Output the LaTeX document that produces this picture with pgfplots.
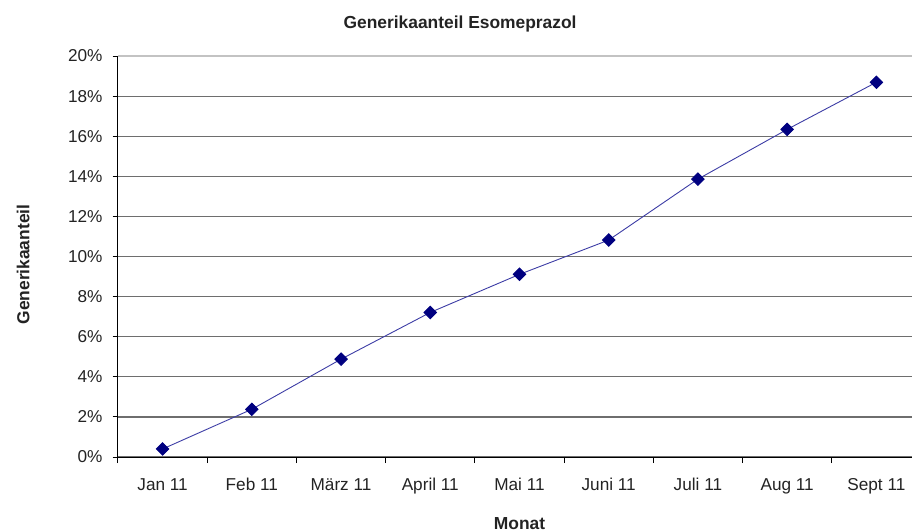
\documentclass[border=0pt]{standalone}
\usepackage{pgfplots}
\pgfplotsset{compat=1.18}
\usepackage{fontspec}
\setmainfont{Liberation Sans}
\definecolor{navyc}{RGB}{0,0,128}
\definecolor{linec}{RGB}{60,60,165}
\definecolor{gridc}{RGB}{110,110,110}
\definecolor{topgrid}{RGB}{195,195,195}
\definecolor{textc}{RGB}{35,35,35}
\begin{document}
\begin{tikzpicture}
\clip (-59pt,-37pt) rectangle (397pt,228.5pt);
\begin{axis}[
  scale only axis,
  width=401.5pt, height=200.5pt,
  xmin=-0.5, xmax=8.5,
  ymin=0, ymax=20,
  axis x line*=bottom,
  axis y line*=left,
  axis line style={black, line width=0.5pt},
  xtick={0,...,8},
  xticklabels={Jan 11,Feb 11,März 11,April 11,Mai 11,Juni 11,Juli 11,Aug 11,Sept 11},
  minor xtick={-0.5,0.5,...,8.5},
  x tick style={draw=none},
  minor x tick style={draw=black, line width=0.5pt},
  ytick={0,2,...,18},
  yticklabels={0\%,2\%,4\%,6\%,8\%,10\%,12\%,14\%,16\%,18\%},
  extra y ticks={20},
  extra y tick labels={20\%},
  extra y tick style={grid style={topgrid, line width=0.6pt}},
  y tick style={black, line width=0.5pt},
  tick align=outside,
  major tick length=2.7pt,
  minor tick length=3pt,
  ymajorgrids,
  grid style={gridc, line width=0.6pt},
  tick label style={font=\fontsize{8.6}{10}\selectfont, text=textc},
  xticklabel style={yshift=-4.5pt},
  yticklabel style={xshift=-1.5pt},
  title={Generikaanteil Esomeprazol},
  title style={at={(axis description cs:0.426,1.05)}, anchor=center, font=\fontsize{8.7}{10}\selectfont\bfseries, text=textc},
  xlabel={Monat},
  xlabel style={at={(axis description cs:0.5,-0.165)}, anchor=center, font=\fontsize{8.7}{10}\selectfont\bfseries, text=textc},
  ylabel={Generikaanteil},
  ylabel style={at={(axis description cs:-0.118,0.48)}, anchor=center, rotate=0, font=\fontsize{8.7}{10}\selectfont\bfseries, text=textc},
  clip=false,
]
\addplot[color=linec, line width=0.45pt, mark=square*, mark size=2.2pt,
  mark options={rotate=45, fill=navyc, draw=navyc, solid}]
  coordinates {
  (0,0.40) (1,2.38) (2,4.88) (3,7.21) (4,9.11) (5,10.82) (6,13.86) (7,16.34) (8,18.69)
  };
\end{axis}
\end{tikzpicture}
\end{document}
